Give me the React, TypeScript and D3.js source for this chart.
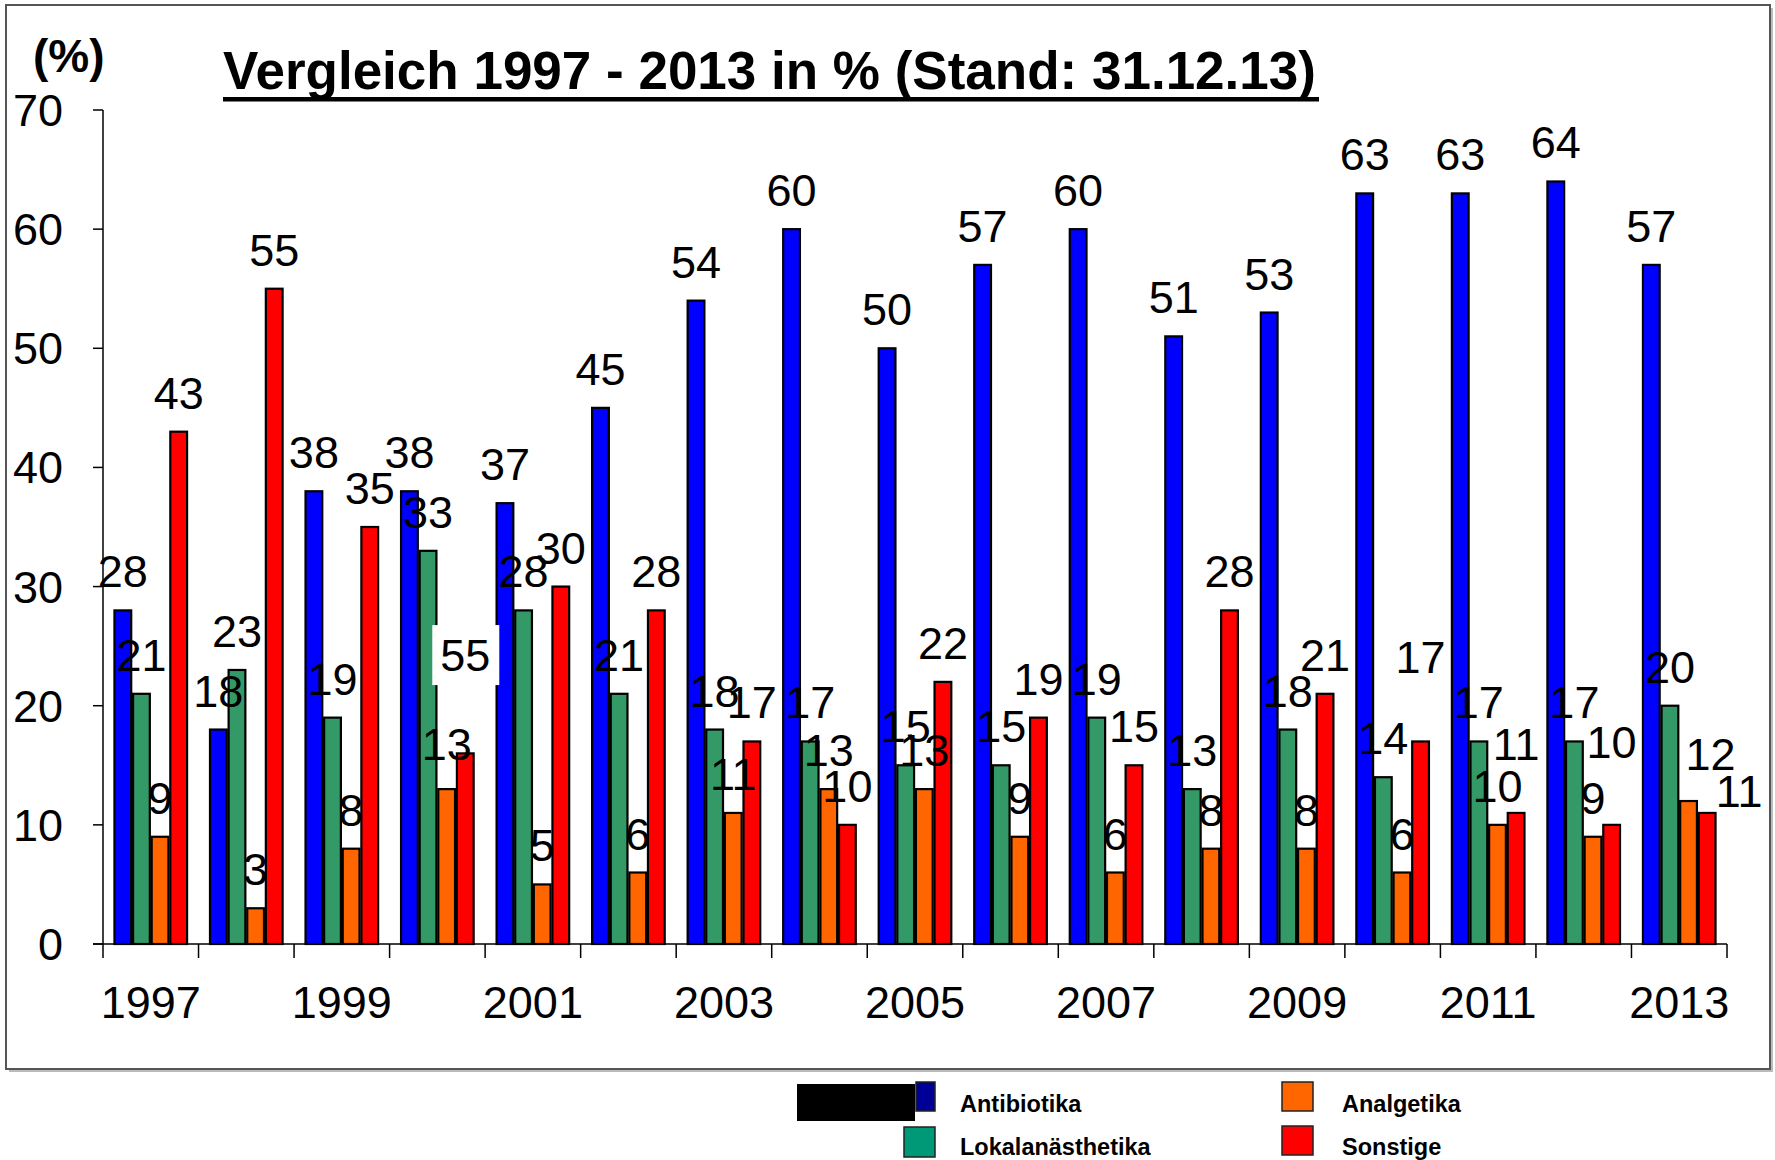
import * as d3 from 'd3';

const years = [
  '1997', '1998', '1999', '2000', '2001', '2002', '2003', '2004', '2005',
  '2006', '2007', '2008', '2009', '2010', '2011', '2012', '2013',
];
const antibiotika = [28, 18, 38, 38, 37, 45, 54, 60, 50, 57, 60, 51, 53, 63, 63, 64, 57];
const lokalanaesthetika = [21, 23, 19, 33, 28, 21, 18, 17, 15, 15, 19, 13, 18, 14, 17, 17, 20];
const analgetika = [9, 3, 8, 13, 5, 6, 11, 13, 13, 9, 6, 8, 8, 6, 10, 9, 12];
const sonstige = [43, 55, 35, 16, 30, 28, 17, 10, 22, 19, 15, 28, 21, 17, 11, 10, 11];
const yTicks = [0, 10, 20, 30, 40, 50, 60, 70];
const shownYears = ['1997', '1999', '2001', '2003', '2005', '2007', '2009', '2011', '2013'];

const series = [
  { key: 'Antibiotika', values: antibiotika, bar: '#0000ff', swatch: '#000099' },
  { key: 'Lokalanästhetika', values: lokalanaesthetika, bar: '#339966', swatch: '#009977' },
  { key: 'Analgetika', values: analgetika, bar: '#ff6600', swatch: '#ff6600' },
  { key: 'Sonstige', values: sonstige, bar: '#ff0000', swatch: '#ff0000' },
];

// labels that sit off their usual place in the original (year|series -> px nudge)
const labelNudge: Record<string, { dx: number; dy: number; hide?: boolean }> = {
  '2000|Sonstige': { dx: 0, dy: 0, hide: true },
  '2000|Analgetika': { dx: 0, dy: -6 },
  '2010|Sonstige': { dx: 0, dy: -45 },
  '2011|Sonstige': { dx: 0, dy: -30 },
  '2012|Sonstige': { dx: 0, dy: -44 },
  '2013|Analgetika': { dx: 22, dy: -8 },
  '2013|Sonstige': { dx: 32, dy: 17 },
};
// stray boxed label left in the original slide
const strayLabel = { text: '55', year: '2000', value: 24.25 };

const FONT = '"Liberation Sans", Arial, sans-serif';

export default function App() {
  const W = 1775;
  const H = 1160;
  const left = 103;
  const right = 1727;
  const top = 110;
  const bottom = 944;
  const fs = 45;

  const x0 = d3.scaleBand<string>()
    .domain(years)
    .range([left, right])
    .paddingInner(0.24)
    .paddingOuter(0.12);
  const x1 = d3.scaleBand<string>()
    .domain(series.map(s => s.key))
    .range([0, x0.bandwidth()])
    .paddingInner(0.1);
  const y = d3.scaleLinear().domain([0, 70]).range([bottom, top]);
  const step = x0.step();
  const tickX = d3.range(years.length + 1).map(i => left + i * step);

  const strayX = (x0(strayLabel.year) || 0) + (x1('Sonstige') || 0) + x1.bandwidth() / 2;
  const strayY = y(strayLabel.value);

  return (
    <svg width={W} height={H} style={{ display: 'block', position: 'absolute', left: 0, top: 0 }}
      fontFamily={FONT}>
      <rect x={0} y={0} width={W} height={H} fill="#fff" />
      {/* frame with shadow */}
      <rect x={9} y={8} width={1764} height={1064} fill="#bbb" />
      <rect x={6} y={5} width={1764} height={1064} fill="#fff" stroke="#555" strokeWidth={2} />

      {/* title */}
      <text x={223} y={89} fontSize={53} fontWeight="bold">
        Vergleich 1997 - 2013 in % (Stand: 31.12.13)
      </text>
      <rect x={223} y={97} width={1096} height={4.5} fill="#000" />
      <text x={33} y={72} fontSize={46} fontWeight="bold">(%)</text>

      {/* bars */}
      {series.map(s => (
        <g key={s.key}>
          {s.values.map((v, i) => (
            <rect
              key={years[i]}
              x={(x0(years[i]) || 0) + (x1(s.key) || 0)}
              y={y(v)}
              width={x1.bandwidth()}
              height={bottom - y(v)}
              fill={s.bar}
              stroke="#000"
              strokeWidth={2.2}
            />
          ))}
        </g>
      ))}

      {/* axes */}
      <line x1={left} x2={left} y1={top} y2={bottom} stroke="#000" strokeWidth={1.5} />
      <line x1={left - 10} x2={right} y1={bottom} y2={bottom} stroke="#000" strokeWidth={1.5} />
      {yTicks.map(t => (
        <g key={t}>
          <line x1={left - 10} x2={left} y1={y(t)} y2={y(t)} stroke="#000" strokeWidth={1.5} />
          <text x={63} y={y(t) + 16} fontSize={fs} textAnchor="end">{t}</text>
        </g>
      ))}
      {tickX.map((tx, i) => (
        <line key={i} x1={tx} x2={tx} y1={bottom} y2={bottom + 14} stroke="#000" strokeWidth={1.5} />
      ))}
      {shownYears.map(yr => (
        <text key={yr} x={(x0(yr) || 0) + x0.bandwidth() / 2} y={1018} fontSize={fs} textAnchor="middle">
          {yr}
        </text>
      ))}

      {/* value labels */}
      {series.map(s => s.values.map((v, i) => {
        const n = labelNudge[`${years[i]}|${s.key}`] || { dx: 0, dy: 0 };
        if (n.hide) return null;
        const cx = (x0(years[i]) || 0) + (x1(s.key) || 0) + x1.bandwidth() / 2;
        return (
          <text key={s.key + years[i]} x={cx + n.dx} y={y(v) - 23 + n.dy} fontSize={fs} textAnchor="middle">
            {v}
          </text>
        );
      }))}

      {/* stray label box */}
      <rect x={strayX - 33} y={strayY - 30} width={67} height={60} fill="#fff" />
      <text x={strayX} y={strayY + 16} fontSize={fs} textAnchor="middle">{strayLabel.text}</text>

      {/* legend */}
      <g fontWeight="bold" fontSize={23.5}>
        <rect x={916} y={1082} width={19} height={29} fill={series[0].swatch} stroke="#222" strokeWidth={1.5} />
        <rect x={797} y={1084} width={118} height={37} fill="#000" />
        <text x={960} y={1112}>{series[0].key}</text>
        <rect x={904} y={1127} width={31} height={30} fill={series[1].swatch} stroke="#222" strokeWidth={1.5} />
        <text x={960} y={1155}>{series[1].key}</text>
        <rect x={1282} y={1082} width={31} height={29} fill={series[2].swatch} stroke="#222" strokeWidth={1.5} />
        <text x={1342} y={1112}>{series[2].key}</text>
        <rect x={1282} y={1126} width={31} height={29} fill={series[3].swatch} stroke="#222" strokeWidth={1.5} />
        <text x={1342} y={1155}>{series[3].key}</text>
      </g>
    </svg>
  );
}
